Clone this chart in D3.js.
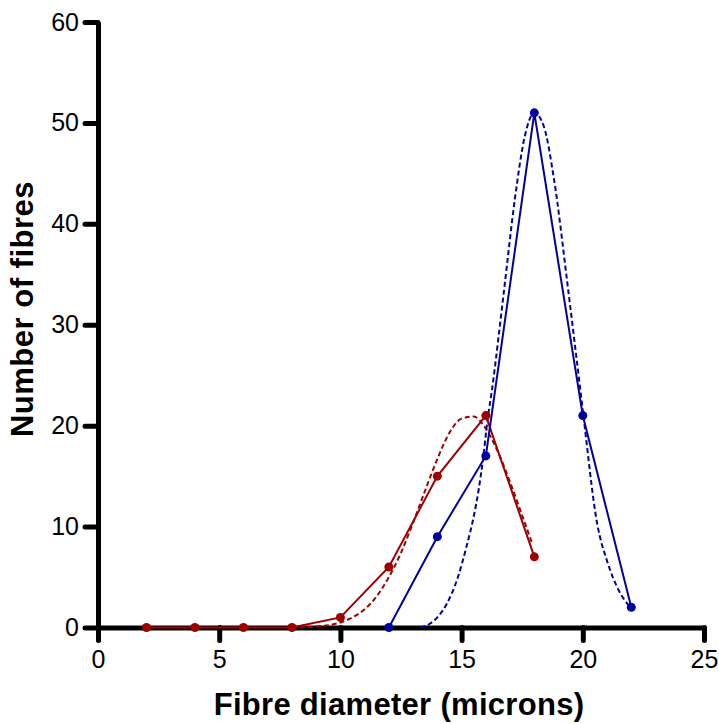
<!DOCTYPE html>
<html>
<head>
<meta charset="utf-8">
<script src="https://cdn.jsdelivr.net/npm/d3@7"></script>
<style>
  body { margin: 0; background: #fff; }
  svg { display: block; }
</style>
</head>
<body>
<svg width="719" height="724"></svg>
<script>
// measured counts (x = fibre diameter, y = number of fibres)
const redX = [2, 4, 6, 8, 10, 12, 14, 16, 18];
const redY = [0, 0, 0, 0, 1, 6, 15, 21, 7];
const blueX = [12, 14, 16, 18, 20, 22];
const blueY = [0, 9, 17, 51, 21, 2];

// dashed fitted curves
const redFitX = [8, 9, 10, 10.5, 11, 11.5, 12, 12.5, 13, 13.5, 14, 14.5, 15, 15.5, 16, 16.5, 17, 17.5, 17.9];
const redFitY = [0, 0.1, 0.5, 1.0, 1.8, 3.1, 5.0, 7.4, 10.4, 13.6, 16.7, 19.3, 20.7, 20.9, 19.7, 17.4, 14.4, 11.1, 8.4];
const blueFitX = [13.3, 13.7, 14.0, 14.4, 14.85, 15.2, 15.5, 15.7, 15.9, 16.05, 16.25, 16.75, 17.2, 17.6, 18.0, 18.4, 18.8, 19.4, 19.8, 20.0, 20.6, 21.0, 21.5, 22.0];
const blueFitY = [0, 0.4, 1.0, 2.4, 5.0, 8.0, 11.0, 13.6, 17.0, 20.2, 23.5, 33.4, 42.5, 48.6, 51.0, 49.6, 44.6, 33.4, 25.5, 21.5, 10.2, 6.6, 3.6, 1.9];

const xTicks = [0, 5, 10, 15, 20, 25];
const yTicks = [0, 10, 20, 30, 40, 50, 60];

const red = "#9e0000";
const blue = "#00009c";

function toPoints(xs, ys) {
    return xs.map((x, i) => ({x: x, y: ys[i]}));
}

function drawChart() {
    let svg = d3.select("svg");

    const area = {left: 98, right: 704, top: 22, bottom: 627.5};

    let scX = d3.scaleLinear().domain([0, 25]).range([area.left, area.right]);
    let scY = d3.scaleLinear().domain([0, 60]).range([area.bottom, area.top]);

    // axes
    let axX = svg.append("g")
        .attr("transform", `translate(0, ${area.bottom})`)
        .call(d3.axisBottom(scX).tickValues(xTicks).tickSizeInner(13).tickSizeOuter(0).tickPadding(10));
    let axY = svg.append("g")
        .attr("transform", `translate(${area.left}, 0)`)
        .call(d3.axisLeft(scY).tickValues(yTicks).tickSizeInner(13).tickSizeOuter(0).tickPadding(6));

    for (let ax of [axX, axY]) {
        ax.select(".domain").attr("stroke", "#000").attr("stroke-width", 5);
        ax.selectAll(".tick line").attr("stroke", "#000").attr("stroke-width", 5)
            .attr("stroke-linecap", "round");
        ax.selectAll(".tick text")
            .attr("fill", "#000")
            .style("font-family", "'Liberation Sans', Arial, sans-serif")
            .style("font-size", "25px");
    }

    // axis titles
    svg.append("text")
        .attr("x", (area.left + area.right) / 2 - 2)
        .attr("y", 715)
        .attr("text-anchor", "middle")
        .style("font-family", "'Liberation Sans', Arial, sans-serif")
        .style("font-size", "31px")
        .style("font-weight", "bold")
        .style("letter-spacing", "0.3px")
        .text("Fibre diameter (microns)");

    svg.append("text")
        .attr("transform", "translate(33, 309) rotate(-90)")
        .attr("text-anchor", "middle")
        .style("font-family", "'Liberation Sans', Arial, sans-serif")
        .style("font-size", "31px")
        .style("font-weight", "bold")
        .style("letter-spacing", "0.5px")
        .text("Number of fibres");

    // dashed fits
    let fitLine = d3.line()
        .x(d => scX(d.x))
        .y(d => scY(d.y))
        .curve(d3.curveMonotoneX);

    createLine(svg, toPoints(redFitX, redFitY), fitLine, red, "5,3");
    createLine(svg, toPoints(blueFitX, blueFitY), fitLine, blue, "5,3");

    // data lines with markers
    let dataLine = d3.line()
        .x(d => scX(d.x))
        .y(d => scY(d.y));

    createLine(svg, toPoints(redX, redY), dataLine, red, null);
    createLine(svg, toPoints(blueX, blueY), dataLine, blue, null);
    createDots(svg, toPoints(redX, redY), scX, scY, red);
    createDots(svg, toPoints(blueX, blueY), scX, scY, blue);
}

function createLine(svg, data, line, color, dash) {
    svg.append("path")
        .datum(data)
        .attr("d", line)
        .attr("fill", "none")
        .attr("stroke", color)
        .attr("stroke-width", 2)
        .attr("stroke-dasharray", dash);
}

function createDots(svg, data, scX, scY, color) {
    svg.append("g")
        .selectAll("circle")
        .data(data)
        .enter()
        .append("circle")
        .attr("cx", d => scX(d.x))
        .attr("cy", d => scY(d.y))
        .attr("r", 4.5)
        .attr("fill", color);
}

drawChart();
</script>
</body>
</html>
